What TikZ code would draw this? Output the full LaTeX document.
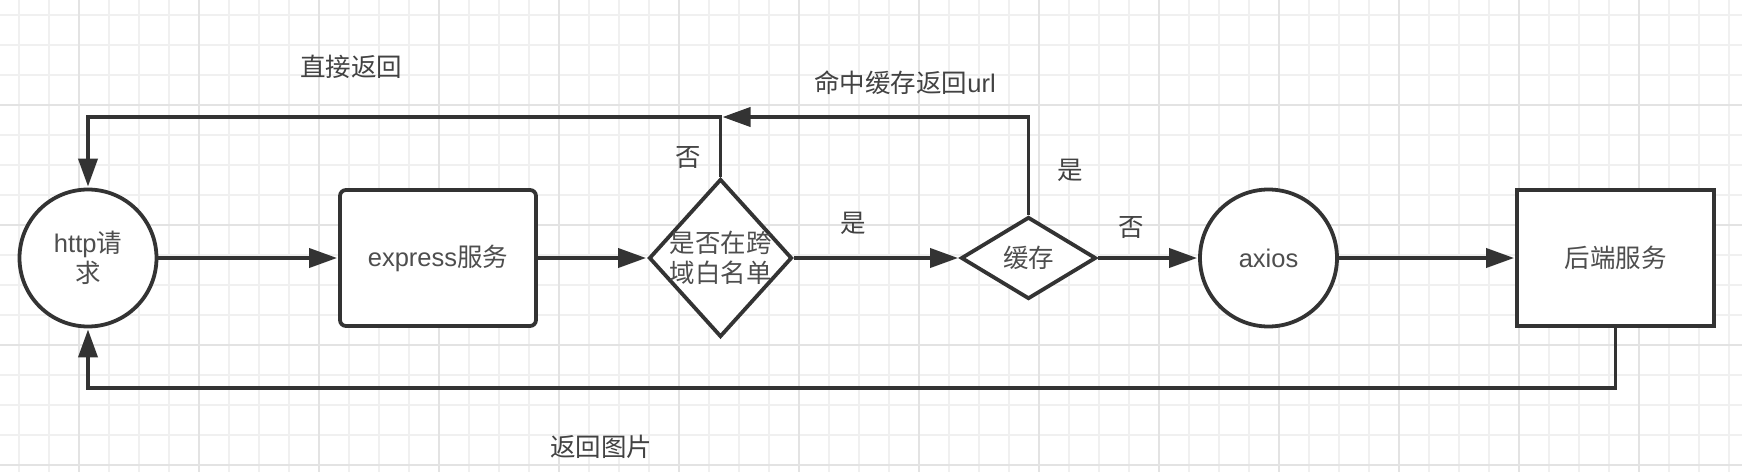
\documentclass[tikz,border=0pt]{standalone}
\usepackage{fontspec}
\setmainfont{Liberation Sans}
\newfontfamily\cjk{Noto Sans CJK SC}
\usetikzlibrary{shapes.geometric,arrows.meta}
\definecolor{ln}{HTML}{333333}
\definecolor{tx}{HTML}{424242}
\definecolor{ntx}{HTML}{4E4E4E}
\definecolor{gminor}{HTML}{F0F0F0}
\definecolor{gmajor}{HTML}{E3E3E3}
\begin{document}
\begin{tikzpicture}[x=1pt,y=-1pt,
  font=\fontsize{25.5}{30}\selectfont,
  cjkf/.style={font=\fontsize{25.5}{30}\selectfont\cjk},
  shapebox/.style={draw=ln, line width=3.8pt, fill=white, text=ntx, inner sep=0pt, align=center},
  circ/.style={shapebox, circle, minimum size=137pt},
  rbox/.style={shapebox, rectangle, rounded corners=6pt, minimum width=196pt, minimum height=136pt},
  sbox/.style={shapebox, rectangle, minimum width=197pt, minimum height=136pt},
  dia/.style={shapebox, diamond},
  lab/.style={text=tx, inner sep=0pt, align=center},
  nlab/.style={text=ntx, inner sep=0pt, align=center},
  flow/.style={draw=ln, line width=3.8pt, -{Triangle[length=28pt,width=19pt]}, shorten >=1pt}
]
\useasboundingbox (0,0) rectangle (1742,472);
\fill[white] (0,0) rectangle (1742,472);
% grid
\foreach \x in {19,49,...,1741} \draw[gminor, line width=2pt] (\x,0) -- (\x,472);
\foreach \y in {15,45,...,471} \draw[gminor, line width=2pt] (0,\y) -- (1742,\y);
\foreach \x in {79,199,...,1741} \draw[gmajor, line width=2pt] (\x,0) -- (\x,472);
\foreach \y in {105,225,345,465} \draw[gmajor, line width=2pt] (0,\y) -- (1742,\y);

% nodes
\node[circ] (http) at (88,258) {http{\cjk 请}\\{\cjk 求}};
\node[rbox] (exp) at (438,258) {express{\cjk 服务}};
\node[dia, minimum width=143pt, minimum height=158pt,
      label={[nlab,cjkf]center:是否在跨\\域白名单}] (d1) at (720.5,258) {};
\node[dia, minimum width=135pt, minimum height=82pt,
      label={[nlab,cjkf]center:缓存}] (d2) at (1028.5,258) {};
\node[circ] (ax) at (1268.5,258) {axios};
\node[sbox, cjkf] (be) at (1615.5,258) {后端服务};

\coordinate (ytop) at (0,117);
\coordinate (ybot) at (0,388);

% connectors
\draw[flow] (http) -- (exp);
\draw[flow] (exp) -- (d1);
\draw[flow] (d1) -- (d2);
\draw[flow] (d2) -- (ax);
\draw[flow] (ax) -- (be);
\draw[flow] (d1.north) -- (d1.north |- ytop) -| (http.north);
\draw[flow, shorten >=2pt] (d2.north) |- (d1.north |- ytop);
\draw[flow] (be.south) -- (be.south |- ybot) -| (http.south);

% labels
\node[lab,cjkf] (l1) at (351,67) {直接返回};
\node[lab] (l2) at (905,83) {{\cjk 命中缓存返回}url};
\node[lab,cjkf] (l3) at (688,158) {否};
\node[lab,cjkf] (l4) at (1070,170) {是};
\node[lab,cjkf] (l5) at (853,223) {是};
\node[lab,cjkf] (l6) at (1131,228) {否};
\node[lab,cjkf] (l7) at (601,447) {返回图片};
\end{tikzpicture}
\end{document}
